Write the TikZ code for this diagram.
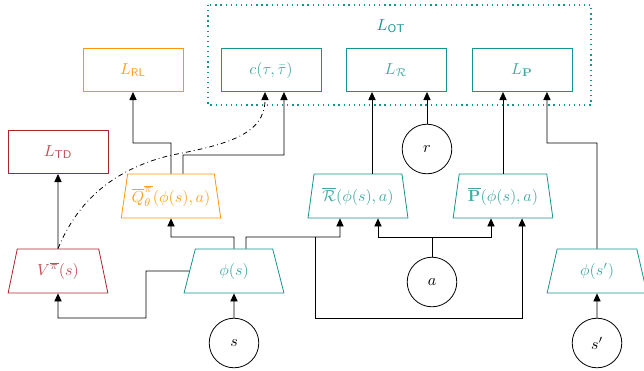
\documentclass[tikz,border=0pt]{standalone}
\usepackage{amsmath,amssymb}
\usetikzlibrary{shapes.geometric,arrows.meta,calc}
\definecolor{cteal}{RGB}{20,148,142}
\definecolor{corange}{RGB}{255,150,10}
\definecolor{cred}{RGB}{172,36,44}
\tikzset{
  box/.style={draw, rectangle, minimum width=62.5pt, minimum height=27pt, line width=0.5pt, inner sep=0pt},
  trap/.style={draw, trapezium, trapezium left angle=75, trapezium right angle=75,
    minimum width=62.5pt, minimum height=27.5pt, trapezium stretches=true, inner sep=0pt, line width=0.5pt},
  var/.style={draw, circle, minimum size=31pt, inner sep=0pt, line width=0.5pt},
  arr/.style={-{Triangle[length=5pt,width=4.5pt]}, line width=0.5pt},
  tealc/.style={draw=cteal, text=cteal!80},
  orc/.style={draw=corange, text=corange!90},
  redc/.style={draw=cred, text=cred!80},
  groupbox/.style={draw=cteal, line width=0.8pt, dash pattern=on 0.8pt off 2.4pt},
}
\begin{document}
\begin{tikzpicture}[x=0.625pt, y=-0.625pt]
\useasboundingbox (0,0) rectangle (644,371);
% OT group
\coordinate (otnw) at (208,5);
\coordinate (otse) at (591,105);
\draw[groupbox] (otnw) rectangle (otse);
\node[text=cteal] (otl) at (391,26) {$L_{\mathsf{OT}}$};
% loss boxes
\node[box, tealc] (c) at (271,70) {$c(\tau,\bar{\tau})$};
\node[box, tealc] (LR) at (396,70) {$L_{\mathcal{R}}$};
\node[box, tealc] (LP) at (522,70) {$L_{\mathbf{P}}$};
\node[box, orc] (LRL) at (133,70) {$L_{\mathsf{RL}}$};
\node[box, redc] (LTD) at (58,152) {$L_{\mathsf{TD}}$};
\node[var] (r) at (427,149) {$r$};
% networks
\node[trap, orc] (Q) at (171,196) {$\overline{Q}^{\overline{\pi}}_{\theta}(\phi(s),a)$};
\node[trap, tealc] (Rb) at (358,196) {$\overline{\mathcal{R}}(\phi(s),a)$};
\node[trap, tealc] (Pb) at (503,196) {$\overline{\mathbf{P}}(\phi(s),a)$};
\node[trap, redc] (V) at (58,271) {$V^{\overline{\pi}}(s)$};
\node[trap, tealc] (phis) at (234,271) {$\phi(s)$};
\node[trap, tealc] (phisp) at (597,271) {$\phi(s')$};
% inputs
\node[var] (a) at (432,282) {$a$};
\node[var] (s) at (234,343) {$s$};
\node[var] (sp) at (597,343) {$s'$};
% connectors
\draw[arr] (Q.north) -- (171,143) -| (LRL.south);
\draw[arr] ([xshift=7.5pt]Q.north) -- (183,155) -| ([xshift=8.1pt]c.south);
\draw[arr, dash dot] (V.north) .. controls (72,215) and (100,172) .. (172,155)
  .. controls (225,145) and (265,135) .. ([xshift=-3.75pt]c.south);
\draw[arr] (V.north) -- (LTD.south);
\draw[arr] ([xshift=8.75pt]Rb.north) -- ([xshift=8.75pt]Rb.north |- LR.south);
\draw[arr] (r.north) -- (r.north |- LR.south);
\draw[arr] (Pb.north) -- (Pb.north |- LP.south);
\draw[arr] (phisp.north) -- (597,143) -| ([xshift=15.6pt]LP.south);
\draw[arr] (s.north) -- (phis.south);
\draw[arr] (sp.north) -- (phisp.south);
\draw[arr] (phis.west) -- (146,271) -- (146,318) -| (V.south);
\draw[arr] (phis.north) -- (234,237) -| (Q.south);
\draw[arr] ([xshift=7.5pt]phis.north) -- (246,237) -| ([xshift=-11.25pt]Rb.south);
\draw[arr] (315,237) -- (315,318) -| ([xshift=11.9pt]Pb.south);
\draw[arr] (a.north) -- (432,237) -| ([xshift=12.5pt]Rb.south);
\draw[arr] (432,237) -| ([xshift=-7.5pt]Pb.south);
\end{tikzpicture}
\end{document}
